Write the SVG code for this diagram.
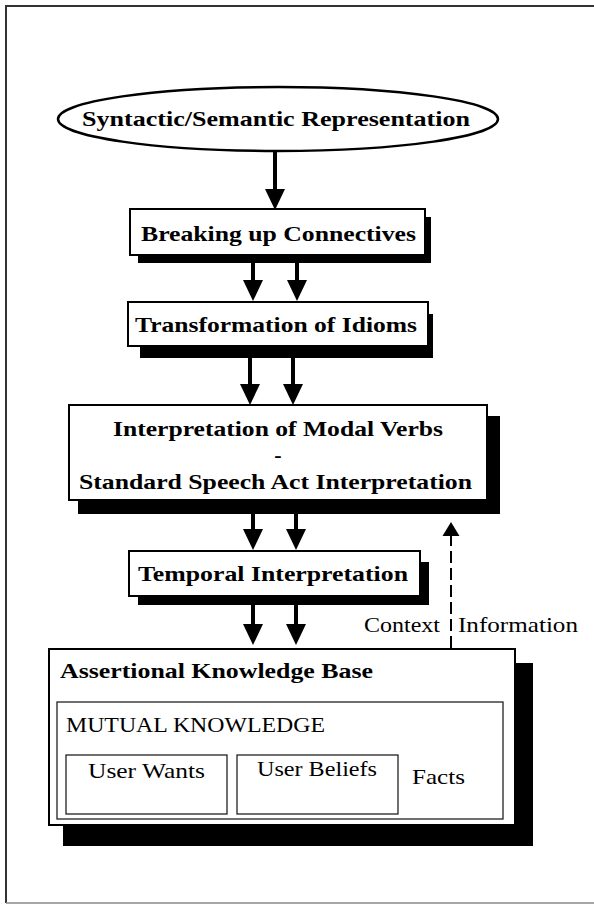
<svg xmlns="http://www.w3.org/2000/svg" width="594" height="909" viewBox="0 0 594 909">
<defs>
<style>
.frame{stroke:#333;stroke-width:2;fill:none}
.box{fill:#fff;stroke:#000;stroke-width:2}
.shadow{fill:#000}
.inner{fill:#fff;stroke:#222;stroke-width:1.3}
.b{font-family:"Liberation Serif","DejaVu Serif",serif;font-weight:bold;font-size:22px;fill:#000}
.r{font-family:"Liberation Serif","DejaVu Serif",serif;font-size:22px;fill:#000}
.shaft{stroke:#000;stroke-width:4;fill:none}
.dash{stroke:#000;stroke-width:2;stroke-dasharray:12 5;fill:none}
</style>
<marker id="ah" viewBox="0 -10 21 20" refX="11" refY="0" markerWidth="21" markerHeight="20" markerUnits="userSpaceOnUse" orient="auto"><path d="M0,-10 L21,0 L0,10 z" fill="#000"/></marker>
<marker id="ahd" viewBox="0 -9 14 18" refX="0" refY="0" markerWidth="14" markerHeight="18" markerUnits="userSpaceOnUse" orient="auto"><path d="M0,-8.5 L14,0 L0,8.5 z" fill="#000"/></marker>
</defs>
<rect width="594" height="909" fill="#fff"/>
<g id="frame">
<path class="frame" d="M6,6 H594 M6,5 V903"/>
<path d="M6,903 H594" stroke="#888" stroke-width="1.5"/>
</g>
<g id="connectors">
<line class="shaft" x1="275" y1="152" x2="275" y2="200" marker-end="url(#ah)"/>
<line class="shaft" x1="253" y1="263" x2="253" y2="291" marker-end="url(#ah)"/>
<line class="shaft" x1="297" y1="263" x2="297" y2="291" marker-end="url(#ah)"/>
<line class="shaft" x1="250" y1="358" x2="250" y2="395" marker-end="url(#ah)"/>
<line class="shaft" x1="293" y1="358" x2="293" y2="395" marker-end="url(#ah)"/>
<line class="shaft" x1="253" y1="514" x2="253" y2="540" marker-end="url(#ah)"/>
<line class="shaft" x1="296" y1="514" x2="296" y2="540" marker-end="url(#ah)"/>
<line class="shaft" x1="253" y1="605" x2="253" y2="635" marker-end="url(#ah)"/>
<line class="shaft" x1="296" y1="605" x2="296" y2="635" marker-end="url(#ah)"/>
<line class="dash" x1="451" y1="648" x2="451" y2="536" marker-end="url(#ahd)"/>
<text class="r" x="364" y="632" textLength="76" lengthAdjust="spacingAndGlyphs">Context</text>
<text class="r" x="458" y="632" textLength="120" lengthAdjust="spacingAndGlyphs">Information</text>
</g>
<g id="syntactic">
<ellipse cx="278" cy="119" rx="220" ry="32" fill="#fff" stroke="#000" stroke-width="2.5"/>
<text class="b" x="82" y="126" font-size="25" textLength="388" lengthAdjust="spacingAndGlyphs">Syntactic/Semantic Representation</text>
</g>
<g id="breaking">
<rect class="shadow" x="138" y="217" width="293" height="46"/>
<rect class="box" x="130" y="209" width="295" height="46"/>
<text class="b" x="141" y="241" textLength="275" lengthAdjust="spacingAndGlyphs">Breaking up Connectives</text>
</g>
<g id="idioms">
<rect class="shadow" x="140" y="314" width="293" height="44"/>
<rect class="box" x="128" y="302" width="300" height="44"/>
<text class="b" x="135" y="332" textLength="282" lengthAdjust="spacingAndGlyphs">Transformation of Idioms</text>
</g>
<g id="modal">
<rect class="shadow" x="78" y="416" width="422" height="98"/>
<rect class="box" x="69" y="405" width="418" height="95"/>
<text class="b" x="113" y="436" textLength="330" lengthAdjust="spacingAndGlyphs">Interpretation of Modal Verbs</text>
<text class="b" x="278" y="462" text-anchor="middle" font-size="14">-</text>
<text class="b" x="79" y="489" textLength="393" lengthAdjust="spacingAndGlyphs">Standard Speech Act Interpretation</text>
</g>
<g id="temporal">
<rect class="shadow" x="138" y="562" width="291" height="43"/>
<rect class="box" x="129" y="551" width="291" height="45"/>
<text class="b" x="138" y="581" textLength="270" lengthAdjust="spacingAndGlyphs">Temporal Interpretation</text>
</g>
<g id="kb">
<rect class="shadow" x="63" y="663" width="470" height="183"/>
<rect class="box" x="49" y="649" width="466" height="176"/>
<text class="b" x="60" y="678" textLength="313" lengthAdjust="spacingAndGlyphs">Assertional Knowledge Base</text>
</g>
<g id="mutual">
<rect class="inner" x="57" y="702" width="446" height="117"/>
<text class="r" x="66" y="732" textLength="259" lengthAdjust="spacingAndGlyphs">MUTUAL KNOWLEDGE</text>
<text class="r" x="412" y="784" textLength="53" lengthAdjust="spacingAndGlyphs">Facts</text>
</g>
<g id="wants">
<rect class="inner" x="66" y="755" width="161" height="59"/>
<text class="r" x="88" y="778" textLength="117" lengthAdjust="spacingAndGlyphs">User Wants</text>
</g>
<g id="beliefs">
<rect class="inner" x="237" y="755" width="161" height="59"/>
<text class="r" x="257" y="776" textLength="120" lengthAdjust="spacingAndGlyphs">User Beliefs</text>
</g>
</svg>
